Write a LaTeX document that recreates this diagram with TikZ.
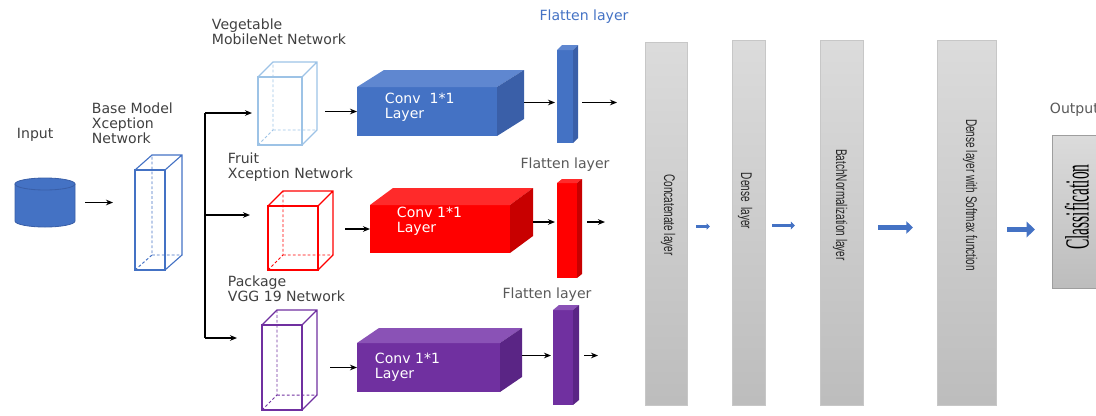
\documentclass[tikz,border=0pt]{standalone}
\usepackage{fontspec}
\setmainfont{DejaVu Sans}
\newfontfamily\colfont{Liberation Sans}
\newfontfamily\clsfont{Liberation Serif}
\usepackage{tikz}
\usetikzlibrary{arrows.meta, shapes.geometric, positioning, calc}
\usepackage{xcolor}
\definecolor{mblue}{HTML}{4472C4}
\definecolor{bluetop}{HTML}{5F87D0}
\definecolor{blueside}{HTML}{3A5FA8}
\definecolor{lblue}{HTML}{9DC3E6}
\definecolor{redtop}{HTML}{FF2A2A}
\definecolor{redside}{HTML}{C80000}
\definecolor{mpurple}{HTML}{7030A0}
\definecolor{purtop}{HTML}{8A52B6}
\definecolor{purside}{HTML}{5A2585}
\definecolor{txtgray}{HTML}{404040}
\def\pu{0.025cm}
\tikzset{
  pxsize/.style 2 args={minimum width=#1*\pu, minimum height=#2*\pu},
  front/.style={rectangle, inner sep=0pt, outer sep=0pt},
  wirebox/.style={front, draw=#1, line width=0.8pt},
  solidbox/.style={front, fill=#1},
  col/.style={rectangle, inner sep=0pt, outer sep=0pt, draw=black!22,
    top color=black!14, bottom color=black!26},
  lbl/.style={anchor=west, align=left, text=txtgray,
    font=\fontsize{10}{10.8}\selectfont},
  convtxt/.style={anchor=west, align=left, text=white,
    font=\fontsize{10}{10.8}\selectfont},
  coltext/.style={rotate=-90, text=black!85, font=\colfont\fontsize{11}{12}\selectfont},
  wire/.style={-{Stealth[length=5pt,width=4pt]}, line width=0.8pt, black},
  barrow/.style={-{Triangle[length=#1*0.6pt,width=#1*1.1pt]}, draw=mblue, line width=#1*0.42pt},
}
\begin{document}
\begin{tikzpicture}[x=0.025cm, y=-0.025cm]
\useasboundingbox (0,0) rectangle (1096,415);
\clip (0,0) rectangle (1096,415);

% input and base model
\node[front, pxsize={60}{37}] (inp) at (45,202.5) {};
\filldraw[fill=mblue, draw=blueside, line width=0.6pt] (inp.north west) -- (inp.south west)
  arc[start angle=180, end angle=360, x radius=30*\pu, y radius=6*\pu] -- (inp.north east) -- cycle;
\filldraw[fill=mblue, draw=blueside, line width=0.6pt] (inp.north) ellipse [x radius=30*\pu, y radius=6*\pu];
\node[lbl] (inptxt) at (12,135) {Input};
\node[wirebox=mblue, pxsize={30}{100}] (base) at (150,220) {};
\node[lbl] (basetxt) at (87,123) {Base Model\\Xception\\Network};

% three branches
\node[wirebox=lblue, pxsize={44}{68}] (veg) at (280,111) {};
\node[wirebox=red, pxsize={50}{64}] (fruit) at (293,238) {};
\node[wirebox=mpurple, pxsize={40}{85}] (pack) at (282,367.5) {};
\node[lbl] (vegtxt) at (207,32) {Vegetable\\MobileNet Network};
\node[lbl] (fruittxt) at (223,167) {Fruit\\Xception Network};
\node[lbl] (packtxt) at (223,289) {Package\\VGG 19 Network};

% conv layers
\node[solidbox=mblue, pxsize={140}{49}] (conva) at (427,111.5) {};
\node[solidbox=red, pxsize={140}{48}] (convb) at (440,229) {};
\node[solidbox=mpurple, pxsize={143}{49}] (convc) at (428.5,367.5) {};
\node[convtxt] (convatxt) at (380,107) {Conv\ \ 1*1\\Layer};
\node[convtxt] (convbtxt) at (392,221) {Conv 1*1\\Layer};
\node[convtxt] (convctxt) at (370,367) {Conv 1*1\\Layer};

% flatten layers
\node[solidbox=mblue, pxsize={16}{93}] (flata) at (565,96.5) {};
\node[solidbox=red, pxsize={20}{95}] (flatb) at (567,230.5) {};
\node[solidbox=mpurple, pxsize={20}{95}] (flatc) at (563,357.5) {};
\node[lbl, anchor=center, text=mblue] (flatatxt) at (584,17) {Flatten layer};
\node[lbl, anchor=center, text=black!65] (flatbtxt) at (565,165) {Flatten layer};
\node[lbl, anchor=center, text=black!65] (flatctxt) at (547,295) {Flatten layer};

% 3d faces
\foreach \n/\dx/\dy/\ct/\cs in {conva/27/17/bluetop/blueside, convb/23/17/redtop/redside,
    convc/22/15/purtop/purside, flata/5/5/bluetop/blueside, flatb/5/4/redtop/redside,
    flatc/6/5/purtop/purside}{
  \fill[\ct] (\n.north west) -- ([shift={(\dx,-\dy)}]\n.north west)
    -- ([shift={(\dx,-\dy)}]\n.north east) -- (\n.north east) -- cycle;
  \fill[\cs] (\n.north east) -- ([shift={(\dx,-\dy)}]\n.north east)
    -- ([shift={(\dx,-\dy)}]\n.south east) -- (\n.south east) -- cycle;
}
\foreach \n/\dx/\dy/\c in {base/17/15/mblue, veg/15/15/lblue, fruit/15/15/red, pack/15/15/mpurple}{
  \coordinate (\n-bsw) at ([shift={(\dx,-\dy)}]\n.south west);
  \coordinate (\n-bse) at ([shift={(\dx,-\dy)}]\n.south east);
  \coordinate (\n-bnw) at ([shift={(\dx,-\dy)}]\n.north west);
  \coordinate (\n-bne) at ([shift={(\dx,-\dy)}]\n.north east);
  \draw[draw=\c, line width=0.8pt] (\n.north west) -- (\n-bnw) -- (\n-bne) -- (\n-bse) -- (\n.south east)
    (\n.north east) -- (\n-bne);
  \draw[draw=\c, line width=0.7pt, dash pattern=on 2pt off 1.5pt]
    (\n.south west) -- (\n-bsw) -- (\n-bnw) (\n-bsw) -- (\n-bse);
}

% classifier head
\node[col, pxsize={42}{363}] (concat) at (666,223.5) {};
\node[col, pxsize={33}{365}] (dense) at (748.5,222.5) {};
\node[col, pxsize={43}{365}] (bn) at (841.5,222.5) {};
\node[col, pxsize={59}{365}] (soft) at (966.5,222.5) {};
\node[col, draw=black!38, pxsize={78}{153}] (cls) at (1091,211.5) {};
\node[coltext] (concattxt) at (668,215) {\scalebox{0.65}[1]{Concatenate layer}};
\node[coltext] (densetxt) at (745,201) {\scalebox{0.65}[1]{Dense\ \ layer}};
\node[coltext] (bntxt) at (840,205) {\scalebox{0.65}[1]{BatchNormalization layer}};
\node[coltext] (softtxt) at (970,195) {\scalebox{0.65}[1]{Dense layer with Softmax function}};
\node[rotate=90, font=\clsfont\fontsize{24}{24}\selectfont] (clstxt) at (1077,207) {\scalebox{0.46}[1]{Classification}};
\node[lbl, text=black!65] (outtxt) at (1045,110) {Output};

% connectors
\draw[wire, shorten <=10*\pu, shorten >=22*\pu] (inp.east) -- (inp.east -| base.west);
\coordinate (br1) at (205,113);
\coordinate (br2) at (205,215);
\coordinate (br3) at (205,338);
\draw[line width=0.8pt] (br1) -- (br3);
\draw[wire, shorten >=6*\pu] (br1) -- (br1 -| veg.west);
\draw[wire, shorten >=18*\pu] (br2) -- (br2 -| fruit.west);
\draw[wire, shorten >=25*\pu] (br3) -- (br3 -| pack.west);
\draw[wire, shorten <=23*\pu] (conva.west -| veg.east) -- (conva.west);
\draw[wire, shorten <=27*\pu] (convb.west -| fruit.east) -- (convb.west);
\draw[wire, shorten <=28*\pu] (convc.west -| pack.east) -- (convc.west);
\coordinate (caout) at ($(conva.east)+(27,-9)$);
\coordinate (cbout) at ($(convb.east)+(23,-7)$);
\coordinate (ccout) at ($(convc.east)+(22,-12)$);
\draw[wire, shorten >=2*\pu] (caout) -- (caout -| flata.west);
\draw[wire, shorten >=2*\pu] (cbout) -- (cbout -| flatb.west);
\draw[wire, shorten >=2*\pu] (ccout) -- (ccout -| flatc.west);
\draw[wire, shorten <=9*\pu, shorten >=28*\pu] (caout -| flata.east) -- (caout -| concat.west);
\draw[wire, shorten <=10*\pu, shorten >=40*\pu] (cbout -| flatb.east) -- (cbout -| concat.west);
\draw[wire, shorten <=11*\pu, shorten >=47*\pu] (ccout -| flatc.east) -- (ccout -| concat.west);
\draw[barrow=4, shorten <=9*\pu, shorten >=22*\pu] ([yshift=-3*\pu]concat.east) -- ([yshift=-3*\pu]concat.east -| dense.west);
\draw[barrow=5, shorten <=7*\pu, shorten >=25*\pu] ([yshift=-3*\pu]dense.east) -- ([yshift=-3*\pu]dense.east -| bn.west);
\draw[barrow=8, shorten <=15*\pu, shorten >=24*\pu] ([yshift=-5*\pu]bn.east) -- ([yshift=-5*\pu]bn.east -| soft.west);
\draw[barrow=10, shorten <=11*\pu, shorten >=17*\pu] ([yshift=-7*\pu]soft.east) -- ([yshift=-7*\pu]soft.east -| cls.west);
\end{tikzpicture}
\end{document}
